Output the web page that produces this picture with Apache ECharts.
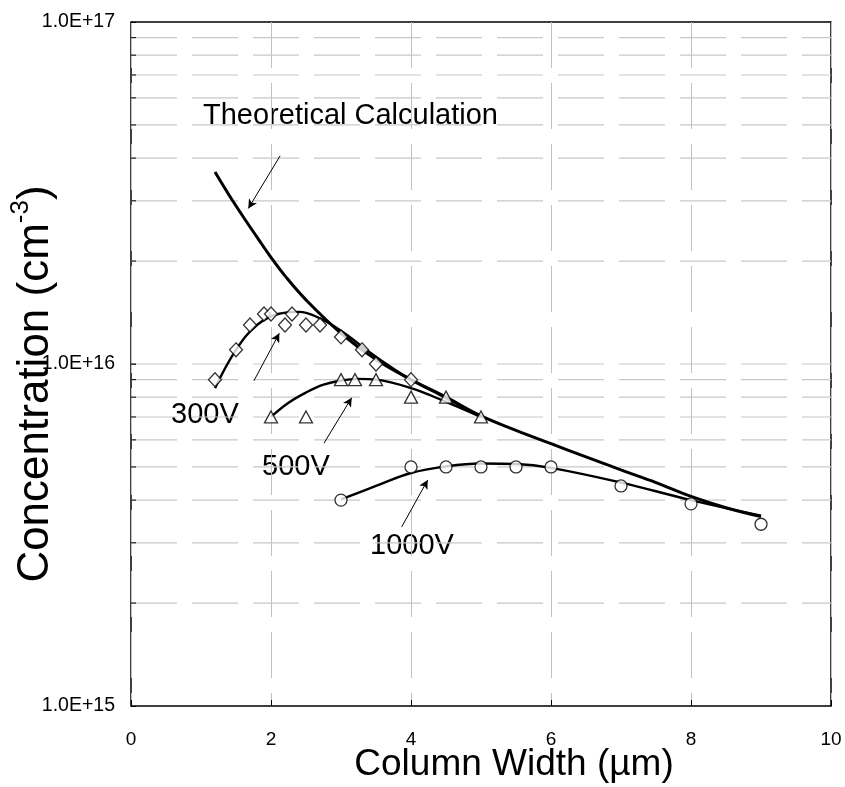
<!DOCTYPE html>
<html>
<head>
<meta charset="utf-8">
<script src="https://cdn.jsdelivr.net/npm/echarts@6/dist/echarts.min.js"></script>
<style>html,body{margin:0;padding:0;background:#fff;}#c{width:845px;height:787px;}</style>
</head>
<body>
<div id="c"></div>
<script>
// ---- data ----
const theoryX = [1.2, 1.4, 1.6, 1.8, 2.0, 2.2, 2.5, 3.0, 3.5, 4.0, 4.5, 5.0, 5.5, 6.0, 6.5, 7.0, 7.5, 8.0, 8.5, 9.0];
const theoryY = [3.64e16, 3.12e16, 2.70e16, 2.35e16, 2.05e16, 1.81e16, 1.54e16, 1.23e16, 1.03e16, 9.0e15, 8.0e15, 7.05e15, 6.4e15, 5.85e15, 5.35e15, 4.9e15, 4.5e15, 4.1e15, 3.8e15, 3.58e15];

const v300X = [1.2, 1.5, 1.7, 1.9, 2.0, 2.2, 2.3, 2.5, 2.7, 3.0, 3.3, 3.5, 4.0];
const v300Y = [9e15, 1.1e16, 1.3e16, 1.4e16, 1.4e16, 1.3e16, 1.4e16, 1.3e16, 1.3e16, 1.2e16, 1.1e16, 1.0e16, 9e15];
const fit300X = [1.2, 1.5, 1.8, 2.1, 2.4, 2.7, 3.0, 3.5, 4.0, 4.5, 5.0];
const fit300Y = [8.5e15, 1.1e16, 1.3e16, 1.40e16, 1.42e16, 1.36e16, 1.25e16, 1.05e16, 9.0e15, 7.95e15, 7.0e15];

const v500X = [2.0, 2.5, 3.0, 3.2, 3.5, 4.0, 4.5, 5.0];
const v500Y = [7e15, 7e15, 9e15, 9e15, 9e15, 8e15, 8e15, 7e15];
const fit500X = [2.0, 2.25, 2.5, 2.75, 3.0, 3.25, 3.5, 4.0, 4.5, 5.0];
const fit500Y = [7.0e15, 7.7e15, 8.25e15, 8.7e15, 8.95e15, 9.05e15, 9.0e15, 8.5e15, 7.75e15, 7.0e15];

const v1000X = [3.0, 4.0, 4.5, 5.0, 5.5, 6.0, 7.0, 8.0, 9.0];
const v1000Y = [4.0e15, 5.0e15, 5.0e15, 5.0e15, 5.0e15, 5.0e15, 4.4e15, 3.9e15, 3.4e15];
const fit1000X = [3.0, 3.5, 4.0, 4.5, 5.0, 5.5, 6.0, 7.0, 8.0, 9.0];
const fit1000Y = [4.02e15, 4.4e15, 4.8e15, 5.02e15, 5.12e15, 5.1e15, 4.97e15, 4.5e15, 4.0e15, 3.6e15];

const yGridValues = [2e15, 3e15, 4e15, 5e15, 6e15, 7e15, 8e15, 9e15, 1e16, 2e16, 3e16, 4e16, 5e16, 6e16, 7e16, 8e16, 9e16];

// arrows: [fromX, fromY, toX, toY] in data units
const arrowTheory = [2.13, 4.06e16, 1.676, 2.85e16];
const arrow300 = [1.757, 8.94e15, 2.119, 1.23e16];
const arrow500 = [2.757, 5.87e15, 3.153, 7.97e15];
const arrow1000 = [3.867, 3.34e15, 4.239, 4.58e15];

const xTitle = 'Column Width (µm)';
const yTitleMain = 'Concentration (cm';
const yTitleSup = '-3';

// ---- build ----
const zip = (xs, ys) => xs.map((x, i) => [x, ys[i]]);
const FONT = '"Liberation Sans", Arial, sans-serif';

const chart = echarts.init(document.getElementById('c'), null, { renderer: 'canvas' });

function arrowLine(a) {
  return [{ coord: [a[0], a[1]] }, { coord: [a[2], a[3]] }];
}

const option = {
  backgroundColor: '#fff',
  animation: false,
  grid: {
    left: 131, top: 22, right: 14, bottom: 81,
    show: true, borderColor: '#000', borderWidth: 1.5,
    containLabel: false, outerBoundsMode: 'none'
  },
  xAxis: {
    type: 'value', min: 0, max: 10, interval: 2,
    axisLine: { show: false },
    axisTick: { show: true, inside: true, length: 6, lineStyle: { color: '#000', width: 1 } },
    axisLabel: { color: '#000', fontSize: 19, fontFamily: FONT, margin: 24 },
    splitLine: { show: true, lineStyle: { color: '#c0c0c0', width: 1, type: [46, 15] } }
  },
  yAxis: {
    type: 'log', logBase: 10, min: 1e15, max: 1e17,
    axisLine: { show: false },
    axisTick: { show: true, inside: true, length: 5, lineStyle: { color: '#000', width: 1 } },
    axisLabel: {
      color: '#000', fontSize: 19.5, fontFamily: FONT, margin: 16,
      formatter: v => '1.0E+' + Math.round(Math.log10(v))
    },
    splitLine: { show: false }
  },
  series: [
    {
      type: 'custom', name: 'hgrid', silent: true, z: 1,
      data: yGridValues.map(v => [0, v]),
      encode: { x: 0, y: 1 },
      renderItem: (params, api) => {
        const v = api.value(1);
        const p1 = api.coord([0, v]);
        const p2 = api.coord([10, v]);
        return {
          type: 'group',
          children: [
            { type: 'line', shape: { x1: p1[0], y1: p1[1], x2: p2[0], y2: p2[1] },
              style: { stroke: '#c8c8c8', lineWidth: 1.2, lineDash: [46, 15] } },
            { type: 'line', shape: { x1: p1[0], y1: p1[1], x2: p1[0] + 5, y2: p1[1] },
              style: { stroke: '#000', lineWidth: 1 } }
          ]
        };
      }
    },
    {
      type: 'line', name: 'Theoretical Calculation', data: zip(theoryX, theoryY),
      smooth: 0.4, showSymbol: false, symbol: 'none', z: 3,
      lineStyle: { color: '#000', width: 3 },
      markLine: {
        silent: true, symbol: ['none', 'arrow'], symbolSize: [7, 9],
        label: { show: false },
        lineStyle: { color: '#000', width: 1, type: 'solid' },
        data: [arrowLine(arrowTheory), arrowLine(arrow300), arrowLine(arrow500), arrowLine(arrow1000)]
      }
    },
    { type: 'line', name: 'fit300', data: zip(fit300X, fit300Y), smooth: 0.4, symbol: 'none', z: 3,
      lineStyle: { color: '#000', width: 2.4 } },
    { type: 'line', name: 'fit500', data: zip(fit500X, fit500Y), smooth: 0.4, symbol: 'none', z: 3,
      lineStyle: { color: '#000', width: 2.4 } },
    { type: 'line', name: 'fit1000', data: zip(fit1000X, fit1000Y), smooth: 0.4, symbol: 'none', z: 3,
      lineStyle: { color: '#000', width: 2.4 } },
    { type: 'scatter', name: '300V', data: zip(v300X, v300Y), symbol: 'diamond', symbolSize: [13, 14], z: 5,
      itemStyle: { color: '#fff', borderColor: '#000', borderWidth: 1.3 } },
    { type: 'scatter', name: '500V', data: zip(v500X, v500Y), symbol: 'triangle', symbolSize: [13, 12], z: 5,
      itemStyle: { color: '#fff', borderColor: '#000', borderWidth: 1.3 } },
    { type: 'scatter', name: '1000V', data: zip(v1000X, v1000Y), symbol: 'circle', symbolSize: 12, z: 5,
      itemStyle: { color: '#fff', borderColor: '#000', borderWidth: 1.3 } }
  ],
  graphic: [
    { type: 'text', x: 203, y: 115.5, silent: true,
      style: { text: 'Theoretical Calculation', font: '29px ' + FONT, fill: '#000', textAlign: 'left', textVerticalAlign: 'middle' } },
    { type: 'text', x: 171, y: 415, silent: true,
      style: { text: '300V', font: '29px ' + FONT, fill: '#000', textAlign: 'left', textVerticalAlign: 'middle' } },
    { type: 'text', x: 262, y: 467, silent: true,
      style: { text: '500V', font: '29px ' + FONT, fill: '#000', textAlign: 'left', textVerticalAlign: 'middle' } },
    { type: 'text', x: 370, y: 545.5, silent: true,
      style: { text: '1000V', font: '29px ' + FONT, fill: '#000', textAlign: 'left', textVerticalAlign: 'middle' } },
    { type: 'text', x: 514, y: 765, silent: true,
      style: { text: xTitle, font: '37px ' + FONT, fill: '#000', textAlign: 'center', textVerticalAlign: 'middle' } },
    { type: 'text', x: 33, y: 384, rotation: Math.PI / 2, silent: true,
      style: {
        text: '{m|' + yTitleMain + '}{s|' + yTitleSup + '}{m|)}',
        textAlign: 'center', textVerticalAlign: 'middle', fill: '#000',
        rich: {
          m: { fontSize: 44, fontFamily: FONT, color: '#000', verticalAlign: 'bottom', lineHeight: 50 },
          s: { fontSize: 26, fontFamily: FONT, color: '#000', verticalAlign: 'top', lineHeight: 50 }
        }
      } }
  ]
};
chart.setOption(option);
</script>
</body>
</html>
